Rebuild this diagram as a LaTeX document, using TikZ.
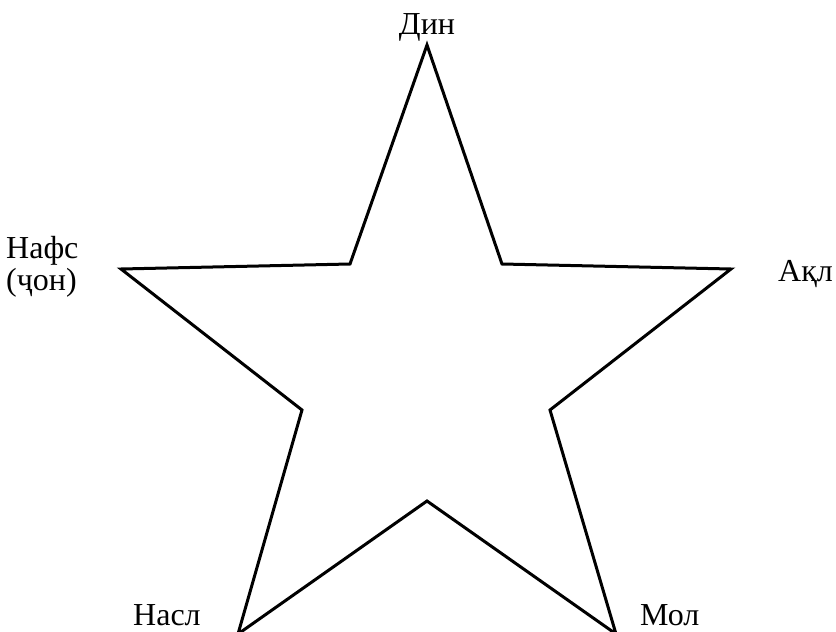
\documentclass[tikz,border=0pt]{standalone}
\usepackage{fontspec}
\setmainfont{Liberation Serif}
\begin{document}
\begin{tikzpicture}[x=1pt,y=-1pt,
  lbl/.style={inner sep=0pt,font=\fontsize{32}{32}\selectfont},
  starline/.style={line width=3pt,line join=miter}]
\useasboundingbox (0,0) rectangle (836,632);
\coordinate (t) at (427,45);
\coordinate (itr) at (502,264);
\coordinate (r) at (731,269);
\coordinate (ir) at (550,410);
\coordinate (br) at (616,634);
\coordinate (ib) at (427,501);
\coordinate (bl) at (238,634);
\coordinate (il) at (302,410);
\coordinate (l) at (121,269);
\coordinate (itl) at (350,264);
\draw[starline] (t) -- (itr) -- (r) -- (ir) -- (br) -- (ib) -- (bl) -- (il) -- (l) -- (itl) -- cycle;
\node[lbl,anchor=base] (din) at (427,34) {Дин};
\node[lbl,anchor=base west,align=left] (nafs) at (6,290) {Нафс\\(ҷон)};
\node[lbl,anchor=base west] (aql) at (778,281) {Ақл};
\node[lbl,anchor=base west] (nasl) at (133,625) {Насл};
\node[lbl,anchor=base west] (mol) at (640,625) {Мол};
\end{tikzpicture}
\end{document}
